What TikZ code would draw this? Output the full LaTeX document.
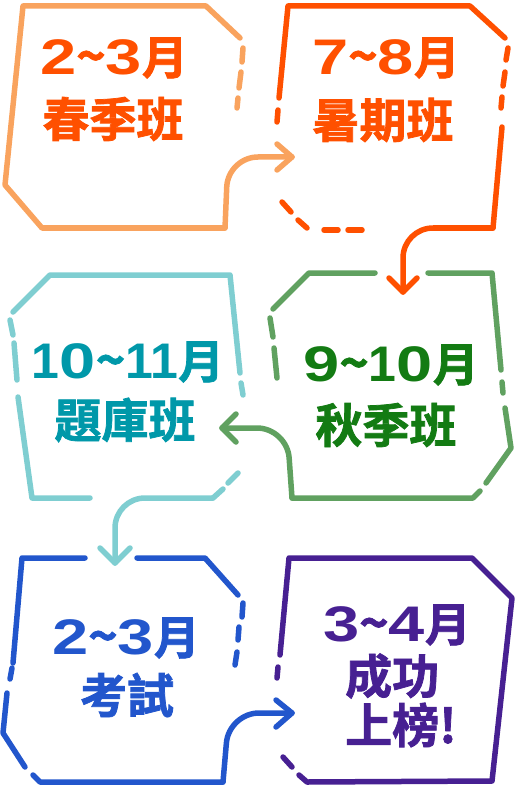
\documentclass[tikz,border=0pt]{standalone}
\usepackage{fontspec}
\newfontfamily\cjk{Noto Sans CJK TC}[UprightFont=* Bold, FakeBold=1.6]
\newfontfamily\numf{Liberation Sans}[UprightFont=* Bold, FakeStretch=1.3]
\newfontfamily\numfn{Liberation Sans}[UprightFont=* Bold]
\newcommand\one{{\numfn 1}}
\newcommand\tl{{\cjk\fontsize{50}{50}\selectfont\textasciitilde}}
\newcommand\mon{{\cjk\fontsize{46}{46}\selectfont 月}}
\definecolor{cA}{HTML}{F9A35E}
\definecolor{cB}{HTML}{FF5000}
\definecolor{cC}{HTML}{60A160}
\definecolor{cCt}{HTML}{137B13}
\definecolor{cD}{HTML}{7FCED1}
\definecolor{cDt}{HTML}{0098A9}
\definecolor{cE}{HTML}{2256CC}
\definecolor{cF}{HTML}{472092}
\tikzset{
  bx/.style={line width=5.5pt, line cap=round, line join=round},
  curvearrow/.style={bx, rounded corners=30pt},
  lineone/.style={inner sep=0pt, font=\fontsize{50}{50}\numf},
  linetwo/.style={inner sep=0pt, font=\fontsize{47}{47}\cjk},
}
\begin{document}
\begin{tikzpicture}[x=1pt,y=-1pt]
\useasboundingbox (0,0) rectangle (530,794);

% ---------- box 1 (light orange) ----------
\begin{scope}[bx, draw=cA]
\draw (240,38) -- (206,6) -- (23,6) -- (5,185) -- (42,228) -- (225,228);
\draw (243,48) -- (242,62);
\draw (241,72) -- (239,88);
\draw (238,98) -- (237,108);
\coordinate (a1) at (225,228);
\coordinate (a1t) at (292,157);
\draw[curvearrow] (a1) -- (228,157) -- (a1t);
\draw (277,144) -- (a1t) -- (277,170);
\end{scope}
\node[lineone, text=cB] (t1a) at (114,58) {2\tl 3\mon};
\node[linetwo, text=cB] (t1b) at (113,119) {春季班};

% ---------- box 2 (orange red) ----------
\begin{scope}[bx, draw=cB]
\draw (279,98) -- (288,6) -- (470,6) -- (505,38);
\draw (508,48) -- (506,60);
\draw (505,72) -- (503,86);
\draw (502,97) -- (501,108);
\draw (502,127) -- (493,228);
\draw (278,110) -- (277,122);
\draw (282,202) -- (291,212);
\draw (298,220) -- (307,228);
\draw (324,230) -- (338,230);
\draw (348,230) -- (362,230);
\coordinate (a2) at (493,228);
\coordinate (a2t) at (403,292);
\draw[curvearrow] (a2) -- (403,228) -- (a2t);
\draw (389,278) -- (a2t) -- (417,278);
\end{scope}
\node[lineone, text=cB] (t2a) at (386,58) {7\tl 8\mon};
\node[linetwo, text=cB] (t2b) at (383,120) {暑期班};

% ---------- box 3 (green) ----------
\begin{scope}[bx, draw=cC]
\draw (375,273) -- (309,273) -- (273,309);
\draw (428,273) -- (492,273) -- (501,370);
\draw (502,382) -- (503,393);
\draw (505,408) -- (511,448) -- (486,483);
\draw (480,491) -- (473,498) -- (292,498);
\draw (270,318) -- (273,337);
\draw (274,348) -- (277,378);
\coordinate (a3) at (292,498);
\coordinate (a3t) at (222,428);
\draw[curvearrow] (a3) -- (287,428) -- (a3t);
\draw (236,414) -- (a3t) -- (236,442);
\end{scope}
\node[lineone, text=cCt] (t3a) at (391,365) {9\tl\one 0\mon};
\node[linetwo, text=cCt] (t3b) at (386,425) {秋季班};

% ---------- box 4 (teal) ----------
\begin{scope}[bx, draw=cD]
\draw (18,397) -- (32,498) -- (90,498);
\draw (13,312) -- (50,275) -- (230,275) -- (240,373);
\draw (241,383) -- (243,395);
\draw (238,473) -- (228,483);
\draw (223,489) -- (213,498);
\draw (10,320) -- (13,335);
\draw (14,343) -- (17,380);
\coordinate (a4) at (213,498);
\coordinate (a4t) at (115,563);
\draw[curvearrow] (a4) -- (115,498) -- (a4t);
\draw (100,548) -- (a4t) -- (130,548);
\end{scope}
\node[lineone, text=cDt] (t4a) at (128,362) {\one 0\tl\one\one\mon};
\node[linetwo, text=cDt] (t4b) at (125,420) {題庫班};

% ---------- box 5 (blue) ----------
\begin{scope}[bx, draw=cE]
\draw (85,558) -- (22,558) -- (13,663);
\draw (137,558) -- (205,558) -- (238,595);
\draw (243,603) -- (242,617);
\draw (239,627) -- (238,640);
\draw (237,652) -- (235,665);
\draw (12,668) -- (10,679);
\draw (7,693) -- (3,733) -- (25,767);
\draw (33,775) -- (40,782) -- (223,782);
\coordinate (a5) at (223,782);
\coordinate (a5t) at (292,713);
\draw[curvearrow] (a5) -- (229,713) -- (a5t);
\draw (276,700) -- (a5t) -- (276,727);
\end{scope}
\node[lineone, text=cE] (t5a) at (126,638) {2\tl 3\mon};
\node[linetwo, text=cE] (t5b) at (127,695) {考試};

% ---------- box 6 (purple) ----------
\begin{scope}[bx, draw=cF]
\draw (280,655) -- (289,558) -- (472,558) -- (512,598) -- (492,781) -- (307,782) -- (299,775);
\draw (278,667) -- (277,678);
\draw (283,757) -- (292,767);
\end{scope}
\node[lineone, text=cF] (t6a) at (397,625) {3\tl 4\mon};
\node[linetwo, text=cF, anchor=west] (t6b) at (345,676) {成功};
\node[linetwo, text=cF, anchor=west] (t6c) at (345,725) {上榜!};
\end{tikzpicture}
\end{document}
